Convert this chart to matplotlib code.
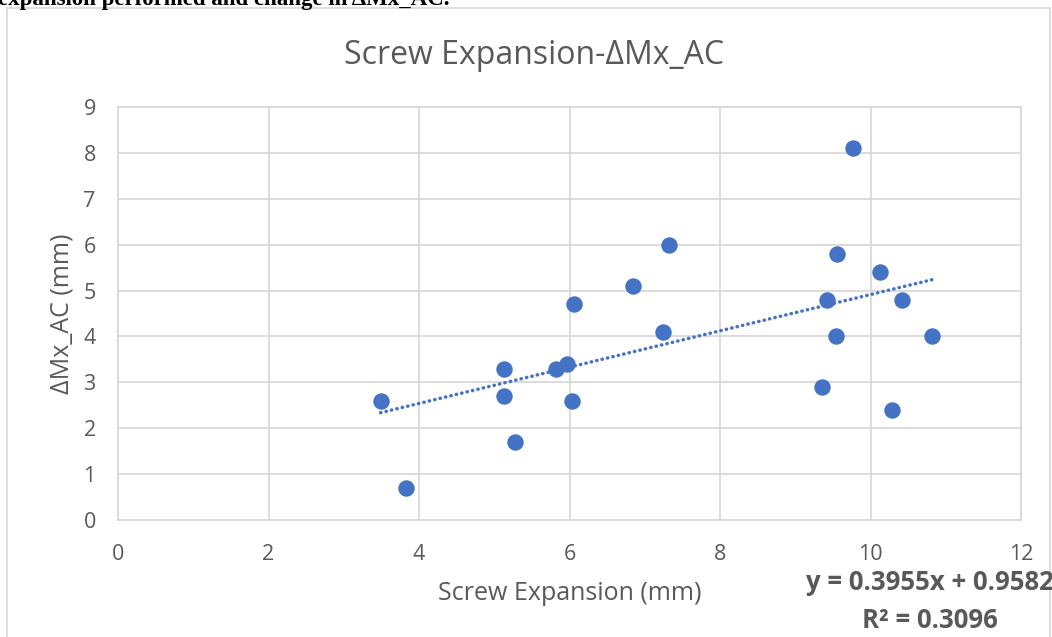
import matplotlib.pyplot as plt
from matplotlib.patches import Rectangle
import numpy as np

# -------------------------------
# Data: screw expansion vs change in Mx_AC
# -------------------------------
screw_expansion = [3.49, 3.83, 5.13, 5.13, 5.28, 5.82, 5.97, 6.03, 6.06, 6.84, 7.24,
                   7.32, 9.36, 9.42, 9.54, 9.55, 9.77, 10.13, 10.28, 10.42, 10.82]
delta_mx_ac = [2.6, 0.7, 3.3, 2.7, 1.7, 3.3, 3.4, 2.6, 4.7, 5.1, 4.1,
               6.0, 2.9, 4.8, 4.0, 5.8, 8.1, 5.4, 2.4, 4.8, 4.0]

slope = 0.3955
intercept = 0.9582
r_squared = 0.3096

x_ticks = [0, 2, 4, 6, 8, 10, 12]
y_ticks = [0, 1, 2, 3, 4, 5, 6, 7, 8, 9]

blue = "#4472C4"
grey_text = "#595959"
grid_col = "#D9D9D9"

plt.rcParams['font.family'] = ['Open Sans', 'DejaVu Sans']

W, H = 1052, 637
fig = plt.figure(figsize=(W / 100, H / 100), dpi=100)

# chart frame
fig.patches.append(Rectangle((7 / W, -0.05), (1050 - 7) / W, 1 - 8 / H + 0.05,
                             transform=fig.transFigure, fill=False,
                             edgecolor="#D9D9D9", lw=1.2))

# caption line from the surrounding document (cut off at the top)
fig.text(-2 / W, 1 - 5 / H, "expansion performed and change in \u0394Mx_AC.",
         family=['Liberation Serif', 'DejaVu Serif'], fontweight='bold',
         fontsize=16.5, va='baseline', ha='left', color='black')

ax = fig.add_axes([118 / W, 1 - 520 / H, (1021 - 118) / W, (520 - 107) / H])

ax.scatter(screw_expansion, delta_mx_ac, s=140, color=blue, zorder=3, linewidths=0)

# linear trendline
xs = np.linspace(min(screw_expansion), max(screw_expansion), 50)
ax.plot(xs, slope * xs + intercept, color=blue, lw=2.5,
        linestyle=(0, (0.1, 1.5)), dash_capstyle='round', zorder=2)

ax.set_xlim(0, 12)
ax.set_ylim(0, 9)
ax.set_xticks(x_ticks)
ax.set_yticks(y_ticks)
ax.tick_params(length=0, labelsize=15.5, labelcolor=grey_text)
ax.tick_params(axis='x', pad=17)
ax.tick_params(axis='y', pad=16)
ax.grid(True, color=grid_col, lw=1.3)
ax.set_axisbelow(True)
for sp in ax.spines.values():
    sp.set_color(grid_col)
    sp.set_linewidth(1.3)

fig.text(534 / W, 1 - 55 / H, "Screw Expansion-\u0394Mx_AC", fontsize=23,
         color=grey_text, ha='center', va='center')

ax.set_xlabel("Screw Expansion (mm)", fontsize=18, color=grey_text)
ax.xaxis.set_label_coords(0.5, (520 - 593) / 413)
ax.xaxis.label.set_va('center')
ax.set_ylabel("\u0394Mx_AC (mm)", fontsize=18, color=grey_text)
ax.yaxis.set_label_coords((62 - 118) / 903, 0.5)
ax.yaxis.label.set_va('center')

fig.text(930 / W, 1 - 582 / H, f"y = {slope}x + {intercept}", fontsize=18.5,
         fontweight='bold', color=grey_text, ha='center', va='center')
fig.text(930 / W, 1 - 620 / H, f"R\u00b2 = {r_squared}", fontsize=18.5,
         fontweight='bold', color=grey_text, ha='center', va='center')

fig.savefig("out.png", dpi=100)
